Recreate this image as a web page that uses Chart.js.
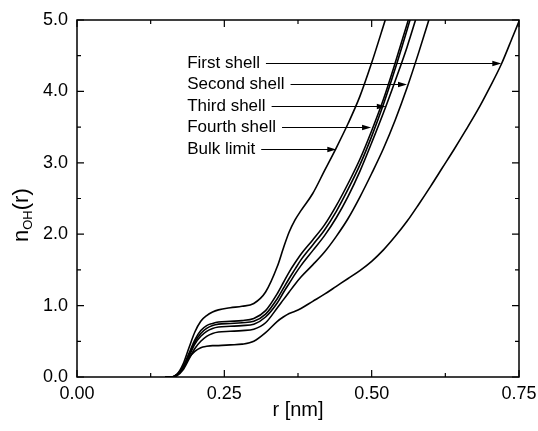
<!DOCTYPE html>
<html><head><meta charset="utf-8">
<script src="https://cdn.jsdelivr.net/npm/chart.js@4"></script>
<style>html,body{margin:0;padding:0;background:#fff;}canvas{display:block;}</style>
</head><body>
<canvas id="c" width="538" height="431"></canvas>
<script>
// r [nm] grid shared by all curves
const rValues = [0.15,0.16,0.17,0.18,0.19,0.20,0.21,0.22,0.23,0.24,0.26,0.28,0.30,0.32,0.34,0.35,0.36,0.37,0.38,0.40,0.42,0.44,0.46,0.48,0.50,0.52,0.54,0.56,0.58,0.60,0.62,0.64,0.66,0.68,0.70,0.72,0.74,0.76];

const bulkLimit   = [0,0,0.04,0.18,0.41,0.63,0.78,0.86,0.91,0.94,0.97,0.99,1.03,1.19,1.55,1.80,2.03,2.20,2.33,2.57,2.89,3.21,3.55,3.93,4.40,4.92,5.45];
const fourthShell = [0,0,0.03,0.14,0.33,0.52,0.65,0.72,0.75,0.77,0.78,0.79,0.82,0.93,1.17,1.32,1.47,1.60,1.72,1.92,2.13,2.40,2.71,3.05,3.45,3.89,4.40,4.94,5.50];
const extraShell  = [0,0,0.03,0.13,0.31,0.49,0.61,0.68,0.72,0.74,0.75,0.76,0.78,0.88,1.10,1.24,1.38,1.51,1.64,1.85,2.06,2.32,2.63,2.97,3.37,3.82,4.32,4.86,5.42];
const thirdShell  = [0,0,0.03,0.12,0.29,0.46,0.57,0.64,0.68,0.70,0.71,0.72,0.74,0.84,1.04,1.18,1.31,1.44,1.56,1.77,1.98,2.23,2.53,2.88,3.28,3.70,4.15,4.62,5.15];
const secondShell = [0,0,0.02,0.10,0.25,0.40,0.50,0.57,0.61,0.63,0.64,0.65,0.67,0.76,0.97,1.08,1.19,1.30,1.40,1.57,1.75,1.97,2.22,2.52,2.85,3.20,3.60,4.05,4.55,5.08];
const firstShell  = [0,0,0.04,0.14,0.27,0.36,0.41,0.43,0.44,0.44,0.45,0.46,0.50,0.62,0.78,0.84,0.89,0.92,0.96,1.06,1.16,1.27,1.38,1.49,1.62,1.78,1.97,2.18,2.42,2.67,2.93,3.19,3.46,3.74,4.05,4.38,4.78,5.18];

// annotation labels with arrows
const annLabels = ['First shell','Second shell','Third shell','Fourth shell','Bulk limit'];
const annY      = [4.4, 4.1, 3.8, 3.5, 3.2];
const annTipR   = [0.72, 0.56, 0.524, 0.499, 0.44];
const annTextR  = 0.187;

const xTitle = 'r [nm]';
const yTitleMain = 'n', yTitleSub = 'OH', yTitleEnd = '(r)';

const FONT = "'Liberation Sans', Arial, Helvetica, sans-serif";

function toPoints(vals){
  const pts = [];
  vals.forEach((v,i)=>{ if (v !== null && v !== undefined) pts.push({x: rValues[i], y: v}); });
  return pts;
}

const seriesList = [bulkLimit, fourthShell, extraShell, thirdShell, secondShell, firstShell];
const seriesNames = ['Bulk limit','Fourth shell','Shell','Third shell','Second shell','First shell'];

const datasets = seriesList.map((vals,i)=>({
  label: seriesNames[i],
  data: toPoints(vals),
  borderColor: '#000',
  borderWidth: 1.6,
  pointRadius: 0,
  fill: false,
  cubicInterpolationMode: 'monotone'
}));

const decor = {
  id: 'decor',
  beforeDraw(chart){
    const c = chart.ctx; c.save(); c.fillStyle = '#fff'; c.fillRect(0,0,chart.width,chart.height); c.restore();
  },
  afterDraw(chart){
    const {ctx, chartArea: a, scales: {x, y}} = chart;
    ctx.save();
    ctx.strokeStyle = '#000';
    ctx.lineWidth = 1.5;
    ctx.strokeRect(a.left, a.top, a.right - a.left, a.bottom - a.top);

    const xs = x.ticks.map(t => t.value), ys = y.ticks.map(t => t.value);
    const minor = arr => arr.slice(1).map((v,i) => (v + arr[i]) / 2);
    ctx.lineWidth = 1.2;
    ctx.beginPath();
    const xt = (v, len) => { const p = x.getPixelForValue(v);
      ctx.moveTo(p, a.bottom); ctx.lineTo(p, a.bottom - len);
      ctx.moveTo(p, a.top); ctx.lineTo(p, a.top + len); };
    const yt = (v, len) => { const p = y.getPixelForValue(v);
      ctx.moveTo(a.left, p); ctx.lineTo(a.left + len, p);
      ctx.moveTo(a.right, p); ctx.lineTo(a.right - len, p); };
    xs.forEach(v => xt(v, 7)); minor(xs).forEach(v => xt(v, 4));
    ys.forEach(v => yt(v, 7)); minor(ys).forEach(v => yt(v, 4));
    ctx.stroke();

    // annotations
    ctx.fillStyle = '#000';
    ctx.font = '17px ' + FONT;
    ctx.textBaseline = 'middle';
    ctx.textAlign = 'left';
    annLabels.forEach((lab, i) => {
      const ty = Math.round(y.getPixelForValue(annY[i])) + 0.5;
      const tx = x.getPixelForValue(annTextR);
      ctx.fillText(lab, tx, ty);
      const sx = tx + ctx.measureText(lab).width + 6;
      const ex = x.getPixelForValue(annTipR[i]);
      ctx.lineWidth = 1;
      ctx.beginPath(); ctx.moveTo(sx, ty); ctx.lineTo(ex - 7, ty); ctx.stroke();
      ctx.beginPath(); ctx.moveTo(ex, ty); ctx.lineTo(ex - 9, ty - 2.8); ctx.lineTo(ex - 9, ty + 2.8); ctx.closePath(); ctx.fill();
    });

    // x title
    ctx.font = '20px ' + FONT;
    ctx.textAlign = 'center';
    ctx.textBaseline = 'alphabetic';
    ctx.fillText(xTitle, (a.left + a.right) / 2, chart.height - 15);

    // y title (rotated, with subscript)
    ctx.save();
    ctx.translate(28, 242);
    ctx.rotate(-Math.PI / 2);
    ctx.textAlign = 'left';
    ctx.font = '22px ' + FONT;
    ctx.fillText(yTitleMain, 0, 0);
    let off = ctx.measureText(yTitleMain).width;
    ctx.font = '13px ' + FONT;
    ctx.fillText(yTitleSub, off, 4);
    off += ctx.measureText(yTitleSub).width;
    ctx.font = '22px ' + FONT;
    ctx.fillText(yTitleEnd, off, 0);
    ctx.restore();

    ctx.restore();
  }
};

new Chart(document.getElementById('c'), {
  type: 'line',
  data: { datasets },
  options: {
    responsive: false,
    devicePixelRatio: 1,
    animation: false,
    events: [],
    layout: { padding: { left: 0, right: 19, top: 20, bottom: 0 } },
    plugins: { legend: { display: false }, tooltip: { enabled: false } },
    scales: {
      x: {
        type: 'linear', min: 0, max: 0.75,
        grid: { display: false, drawTicks: false },
        border: { display: false },
        ticks: { stepSize: 0.25, padding: 6, color: '#000', font: { family: FONT, size: 18 },
                 callback: v => v.toFixed(2), maxRotation: 0 },
        afterFit: s => { s.height = 54; s.paddingRight = 0; s.paddingLeft = 0; }
      },
      y: {
        type: 'linear', min: 0, max: 5,
        grid: { display: false, drawTicks: false },
        border: { display: false },
        ticks: { stepSize: 1, padding: 9, color: '#000', font: { family: FONT, size: 18 },
                 callback: v => v.toFixed(1) },
        afterFit: s => { s.width = 77; s.paddingTop = 0; s.paddingBottom = 0; }
      }
    }
  },
  plugins: [decor]
});
</script>
</body></html>
